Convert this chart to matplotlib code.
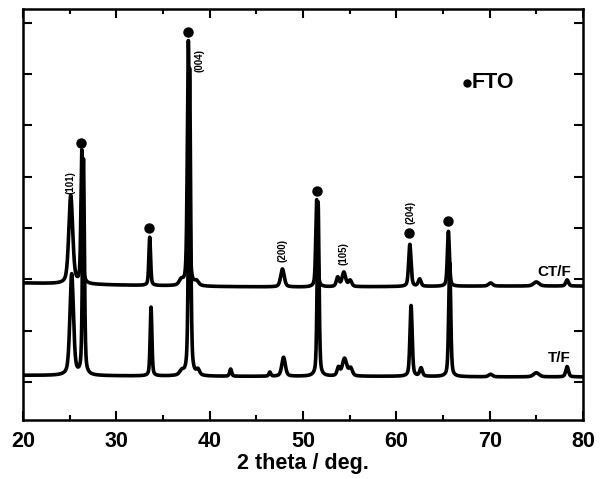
import numpy as np
import matplotlib
matplotlib.use("Agg")
import matplotlib.pyplot as plt
from matplotlib.ticker import MultipleLocator

plt.rcParams['font.family'] = ['Liberation Sans', 'DejaVu Sans']
plt.rcParams['font.weight'] = 'bold'

# Reflections of each pattern: position (2 theta, deg), height above background, FWHM (deg)
ctf_pos    = [25.12, 26.30, 33.58, 36.95, 37.72, 38.60, 47.80, 51.47, 53.72, 54.38, 55.05, 61.45, 62.50, 65.58, 70.10, 75.00, 78.30]
ctf_height = [1.72, 2.59, 0.94, 0.10, 4.78, 0.08, 0.35, 1.70, 0.18, 0.28, 0.12, 0.82, 0.14, 1.07, 0.06, 0.08, 0.12]
ctf_fwhm   = [0.50, 0.22, 0.22, 0.50, 0.26, 0.50, 0.45, 0.24, 0.35, 0.45, 0.40, 0.30, 0.35, 0.26, 0.50, 0.70, 0.35]

tf_pos    = [25.22, 26.48, 33.72, 37.00, 37.85, 38.75, 42.25, 46.45, 47.92, 51.62, 53.80, 54.45, 55.10, 61.58, 62.65, 65.72, 70.10, 75.00, 78.30]
tf_height = [1.97, 4.20, 1.34, 0.08, 6.00, 0.10, 0.14, 0.08, 0.37, 3.40, 0.16, 0.34, 0.15, 1.38, 0.16, 2.22, 0.05, 0.08, 0.20]
tf_fwhm   = [0.45, 0.24, 0.22, 0.50, 0.26, 0.40, 0.25, 0.25, 0.45, 0.24, 0.35, 0.55, 0.45, 0.28, 0.35, 0.26, 0.50, 0.70, 0.35]

# Background level of each (offset) trace along 2 theta
bg_theta = [20, 30, 40, 50, 60, 70, 80]
ctf_bg   = [1.93, 1.89, 1.86, 1.85, 1.86, 1.87, 1.87]
tf_bg    = [0.13, 0.12, 0.11, 0.11, 0.11, 0.10, 0.10]

# FTO substrate reflections marked with a dot, and their marker heights
fto_theta = [26.20, 33.55, 37.70, 51.50, 61.40, 65.55]
fto_y     = [4.66, 3.00, 6.82, 3.72, 2.90, 3.14]

# Anatase indices written above the CT/F trace
hkl_labels = ["(101)", "(004)", "(200)", "(105)", "(204)"]
hkl_theta  = [25.04, 38.86, 47.83, 54.29, 61.47]
hkl_y      = [3.89, 6.26, 2.57, 2.51, 3.30]


def pattern(theta, pos, height, fwhm, bg):
    """Pseudo-Voigt sum of reflections on an interpolated background."""
    y = np.interp(theta, bg_theta, bg)
    eta = 0.45
    for p, h, w in zip(pos, height, fwhm):
        d = (theta - p) / (w / 2.0)
        lor = 1.0 / (1.0 + d ** 2)
        gau = np.exp(-np.log(2) * d ** 2)
        y = y + h * (eta * lor + (1 - eta) * gau)
    return y


theta = np.arange(20.0, 80.0001, 0.01)
y_ctf = pattern(theta, ctf_pos, ctf_height, ctf_fwhm, ctf_bg)
y_tf = pattern(theta, tf_pos, tf_height, tf_fwhm, tf_bg)

fig = plt.figure(figsize=(6.03, 4.79), dpi=100)
ax = fig.add_axes([0.0381, 0.1232, 0.9287, 0.858])

ax.plot(theta, y_tf, color='black', lw=2.6, solid_joinstyle='round')
ax.plot(theta, y_ctf, color='black', lw=2.6, solid_joinstyle='round')

ax.plot(fto_theta, fto_y, 'o', color='black', ms=6.5, mec='black')

for lab, t, yy in zip(hkl_labels, hkl_theta, hkl_y):
    ax.text(t, yy, lab, rotation=90, ha='center', va='center',
            fontsize=7, fontweight='bold')

ax.text(78.71, 2.14, "CT/F", ha='right', va='center', fontsize=11, fontweight='bold')
ax.text(78.71, 0.47, "T/F", ha='right', va='center', fontsize=11, fontweight='bold')

ax.plot([67.57], [5.83], 'o', color='black', ms=5)
ax.text(68.05, 5.83, "FTO", ha='left', va='center', fontsize=15.5, fontweight='bold')

ax.set_xlim(20, 80)
ax.set_ylim(-0.74, 7.27)
ax.xaxis.set_major_locator(MultipleLocator(10))
ax.xaxis.set_minor_locator(MultipleLocator(5))
ax.yaxis.set_major_locator(MultipleLocator(1))
ax.set_yticklabels([])
ax.tick_params(axis='both', which='major', direction='in', length=6.5, width=1.5,
               top=True, right=True, labelsize=15.5, pad=8)
ax.tick_params(axis='x', which='minor', direction='in', length=3.8, width=1.5, top=True)
ax.tick_params(axis='y', labelleft=False)
for lbl in ax.get_xticklabels():
    lbl.set_fontweight('bold')
for s in ax.spines.values():
    s.set_linewidth(1.8)

ax.set_xlabel("2 theta / deg.", fontsize=15.5, fontweight='bold', labelpad=1)

fig.savefig("out.png", dpi=100)
